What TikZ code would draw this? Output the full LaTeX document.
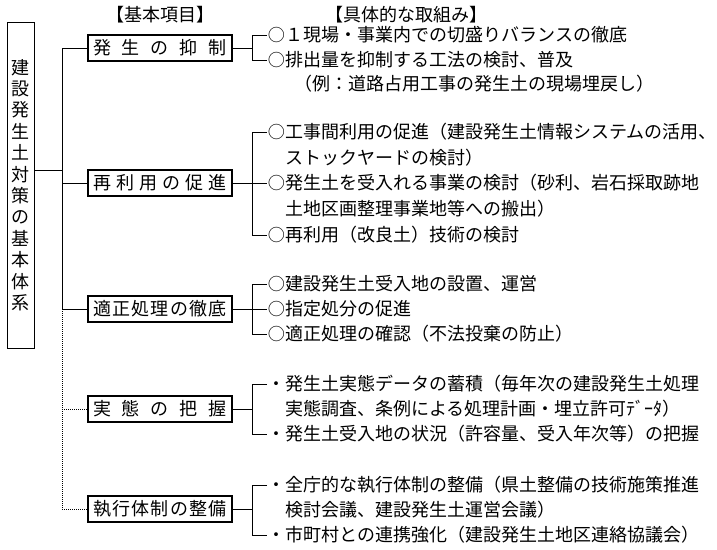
\documentclass[tikz,border=0pt]{standalone}
\usepackage{fontspec}
\usepackage{graphicx}
\newfontfamily\jpfont{Noto Sans CJK JP}
\newcommand{\spreadbox}[1]{\makebox[134pt]{#1}}
\newcommand{\maru}{\makebox[18pt]{\raisebox{0.3pt}{\scalebox{0.95}{○}}}}

\begin{document}
\begin{tikzpicture}[x=1pt, y=-1pt, line width=1pt,
  txt/.style={font=\jpfont\fontsize{18}{18}\selectfont, inner sep=0pt, text height=15.8pt, text depth=2.2pt},
  item/.style={txt, anchor=west},
  kbox/.style={txt, draw, line width=2.2pt, minimum width=144pt, minimum height=26pt},
  dotline/.style={dash pattern=on 1pt off 1pt}]
  \useasboundingbox (0,0) rectangle (717,549);

  % headings
  \node[txt] (h1) at (160,15) {【基本項目】};
  \node[txt] (h2) at (406,15) {【具体的な取組み】};

  % left box
  \node[draw, inner sep=0pt, minimum width=27pt, minimum height=326pt, align=center,
        font=\jpfont\fontsize{18}{21.4}\selectfont] (lb) at (20.5,185)
        {建\\設\\発\\生\\土\\対\\策\\の\\基\\本\\体\\系};
  \coordinate (root) at (62,170);
  \coordinate (brk) at (252,0);

  % basic items
  \node[kbox] (b1) at (160,48) {\spreadbox{発\hfill 生\hfill の\hfill 抑\hfill 制}};
  \node[kbox] (b2) at (160,183) {\spreadbox{再\hfill 利\hfill 用\hfill の\hfill 促\hfill 進}};
  \node[kbox] (b3) at (160,309) {\spreadbox{適\hfill 正\hfill 処\hfill 理\hfill の\hfill 徹\hfill 底}};
  \node[kbox] (b4) at (160,409) {\spreadbox{実\hfill 態\hfill の\hfill 把\hfill 握}};
  \node[kbox] (b5) at (160,509) {\spreadbox{執\hfill 行\hfill 体\hfill 制\hfill の\hfill 整\hfill 備}};

  % concrete measures
  \node[item] (a11) at (267,35) {\maru １現場・事業内での切盛りバランスの徹底};
  \node[item] (a12) at (267,60) {\maru 排出量を抑制する工法の検討、普及};
  \node[item] (a13) at (294,84) {（例：道路占用工事の発生土の現場埋戻し）};

  \node[item] (a21) at (267,132) {\maru 工事間利用の促進（建設発生土情報システムの活用、};
  \node[item] (a22) at (285,158) {ストックヤードの検討）};
  \node[item] (a23) at (267,183) {\maru 発生土を受入れる事業の検討（砂利、岩石採取跡地};
  \node[item] (a24) at (285,209) {土地区画整理事業地等への搬出）};
  \node[item] (a25) at (267,235) {\maru 再利用（改良土）技術の検討};

  \node[item] (a31) at (267,284) {\maru 建設発生土受入地の設置、運営};
  \node[item] (a32) at (267,309) {\maru 指定処分の促進};
  \node[item] (a33) at (267,334) {\maru 適正処理の確認（不法投棄の防止）};

  \node[item] (a41) at (267,384) {・発生土実態データの蓄積（毎年次の建設発生土処理};
  \node[item] (a42) at (285,409) {実態調査、条例による処理計画・埋立許可ﾃﾞｰﾀ）};
  \node[item] (a43) at (267,434) {・発生土受入地の状況（許容量、受入年次等）の把握};

  \node[item] (a51) at (267,485) {・全庁的な執行体制の整備（県土整備の技術施策推進};
  \node[item] (a52) at (285,510) {検討会議、建設発生土運営会議）};
  \node[item] (a53) at (267,535) {・市町村との連携強化（建設発生土地区連絡協議会）};

  % trunk
  \draw (root -| lb.east) -- (root);
  \draw (b1.west -| root) -- (b3.west -| root);
  \draw[dotline] (b3.west -| root) -- (b5.west -| root);
  \foreach \n in {b1,b2,b3}
    \draw (\n.west -| root) -- (\n.west);
  \foreach \n in {b4,b5}
    \draw[dotline] (\n.west -| root) -- (\n.west);

  % brackets
  \foreach \n in {b1,b2,b3,b4,b5}
    \draw (\n.east) -- (\n.east -| brk);
  \draw (a11.west) -- (a11.west -| brk) -- (a12.west -| brk) -- (a12.west);
  \draw (a21.west) -- (a21.west -| brk) -- (a25.west -| brk) -- (a25.west);
  \draw (a23.west -| brk) -- (a23.west);
  \draw (a31.west) -- (a31.west -| brk) -- (a33.west -| brk) -- (a33.west);
  \draw (a32.west -| brk) -- (a32.west);
  \draw (a41.west) -- (a41.west -| brk) -- (a43.west -| brk) -- (a43.west);
  \draw (a51.west) -- (a51.west -| brk) -- (a53.west -| brk) -- (a53.west);
\end{tikzpicture}
\end{document}
